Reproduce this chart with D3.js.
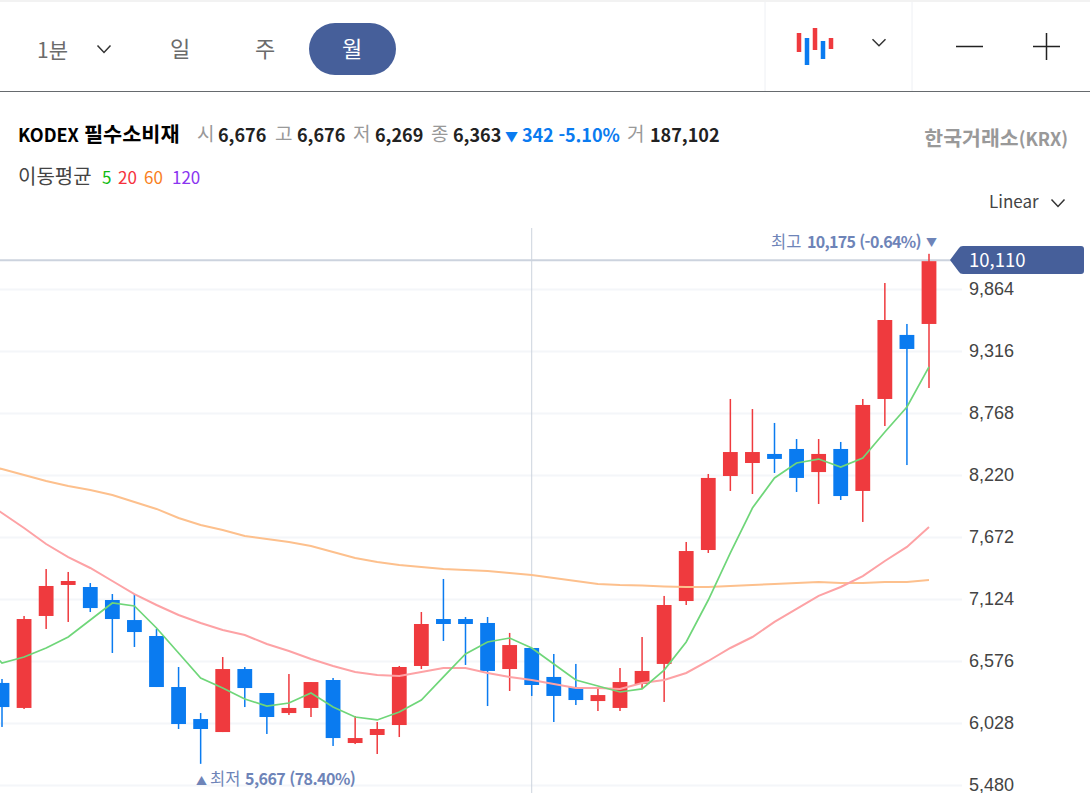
<!DOCTYPE html>
<html lang="ko">
<head>
<meta charset="utf-8">
<script src="https://cdn.jsdelivr.net/npm/d3@7"></script>
<style>
    html, body { margin: 0; padding: 0; background: #fff; overflow: hidden; }
    svg { display: block; font-family: "Noto Sans CJK KR", "Noto Sans", sans-serif; }
    .tick text { font-size: 18px; fill: #444; }
    .tick line { stroke: #f4f6f9; stroke-width: 2px; }
</style>
</head>
<body>
<div id="chart"></div>
<script>
// monthly candles, oldest first
const opens = [6382, 6161, 6974, 7248, 7230, 7115, 6938, 6797, 6346, 6063, 5948, 6505, 6293, 6116, 6161, 6408, 5851, 5922, 6010, 6532, 6947, 6947, 6912, 6505, 6691, 6435, 6346, 6222, 6161, 6373, 6550, 7106, 7557, 8211, 8326, 8406, 8450, 8246, 8450, 8079, 8892, 9458, 9555];
const highs = [6417, 6974, 7389, 7363, 7265, 7168, 7168, 6859, 6523, 6116, 6611, 6523, 6293, 6461, 6390, 6426, 6090, 6037, 6532, 7009, 7301, 6965, 6965, 6824, 6691, 6638, 6550, 6346, 6514, 6788, 7151, 7628, 8229, 8892, 8803, 8680, 8538, 8538, 8512, 8892, 9917, 9555, 10175];
const lows = [5993, 6152, 6859, 6921, 7009, 6647, 6700, 6346, 5975, 5667, 5948, 6169, 5931, 6099, 6081, 5825, 5842, 5754, 5904, 6505, 6753, 6541, 6178, 6311, 6267, 6037, 6187, 6134, 6134, 6329, 6214, 7071, 7531, 8079, 8052, 8238, 8070, 7964, 7999, 7805, 8653, 8308, 8989];
const closes = [6169, 6947, 7239, 7283, 7044, 6947, 6832, 6346, 6019, 5975, 6505, 6337, 6081, 6161, 6390, 5895, 5895, 5975, 6523, 6903, 6903, 6903, 6488, 6717, 6364, 6267, 6231, 6275, 6390, 6488, 7071, 7548, 8194, 8423, 8423, 8362, 8194, 8406, 8034, 8839, 9590, 9334, 10110];

// moving averages, first value belongs to the month just off the left edge
const ma5 = [6762, 6558, 6611, 6691, 6788, 6938, 7089, 7062, 6868, 6647, 6426, 6337, 6240, 6178, 6205, 6293, 6169, 6081, 6055, 6125, 6231, 6435, 6638, 6744, 6779, 6691, 6550, 6408, 6355, 6302, 6329, 6496, 6744, 7115, 7531, 7928, 8194, 8326, 8361, 8291, 8370, 8600, 8821, 9175];
const ma20 = [8017, 7884, 7752, 7610, 7495, 7398, 7283, 7168, 7071, 6983, 6912, 6850, 6806, 6726, 6664, 6594, 6532, 6479, 6452, 6443, 6479, 6514, 6514, 6470, 6435, 6408, 6373, 6337, 6337, 6329, 6382, 6408, 6470, 6576, 6691, 6788, 6921, 7036, 7151, 7230, 7327, 7460, 7584, 7760];
const ma60 = [8310, 8273, 8220, 8167, 8123, 8088, 8043, 7981, 7920, 7840, 7778, 7734, 7681, 7654, 7628, 7593, 7539, 7486, 7451, 7425, 7407, 7389, 7380, 7372, 7354, 7336, 7310, 7283, 7257, 7248, 7244, 7235, 7230, 7230, 7239, 7248, 7257, 7265, 7274, 7265, 7265, 7274, 7274, 7292];

const priceTicks = [5480, 6028, 6576, 7124, 7672, 8220, 8768, 9316, 9864];
const lastPrice = 10110;
const crosshairIndex = 24;

const width = 1090;
const height = 793;
const red = "#ef3a3e";
const blue = "#0a7bf0";
const navy = "#465f9a";
const label = "#6e84b8";

const svg = d3.select("#chart")
    .append("svg")
    .attr("width", width)
    .attr("height", height);

const x = d3.scaleLinear().domain([0, opens.length - 1]).range([2, 929]);
const y = d3.scaleLinear().domain([5480, 9864]).range([785, 289]);
const fmt = d3.format(",");

function addText(px, py, text, size, color, weight, anchor) {
    return svg.append("text")
        .attr("x", px)
        .attr("y", py)
        .attr("font-size", size)
        .attr("fill", color)
        .attr("font-weight", weight || 400)
        .attr("text-anchor", anchor || "start")
        .text(text);
}

function chevron(cx, cy, w, h, color) {
    svg.append("path")
        .attr("d", `M${cx - w / 2},${cy - h / 2}L${cx},${cy + h / 2}L${cx + w / 2},${cy - h / 2}`)
        .attr("fill", "none")
        .attr("stroke", color)
        .attr("stroke-width", 1.5);
}

// toolbar
svg.append("line").attr("x1", 0).attr("x2", width).attr("y1", 1).attr("y2", 1).attr("stroke", "#eeeeee").attr("stroke-width", 1.5);
svg.append("line").attr("x1", 0).attr("x2", width).attr("y1", 91.5).attr("y2", 91.5).attr("stroke", "#666a6e");
[765, 912].forEach(d => {
    svg.append("line").attr("x1", d).attr("x2", d).attr("y1", 2).attr("y2", 91).attr("stroke", "#eef0f4");
});
svg.append("rect").attr("x", 309).attr("y", 23).attr("width", 87).attr("height", 52).attr("rx", 26).attr("fill", navy);
addText(37, 58, "1분", 21, "#6b6b6b");
chevron(104, 49, 13, 7, "#333");
addText(170, 57, "일", 22, "#6b6b6b");
addText(255, 57, "주", 22, "#6b6b6b");
addText(342, 57, "월", 22, "#ffffff");

// candle icon
[[799, 33, 52, red], [807, 38, 65, blue], [815, 28, 50, red], [823, 41, 59, blue], [831, 38, 49, red]].forEach(b => {
    svg.append("rect").attr("x", b[0] - 2.25).attr("y", b[1]).attr("width", 4.5).attr("height", b[2] - b[1]).attr("fill", b[3]);
});
chevron(879, 42.5, 13, 6.5, "#333");
svg.append("path").attr("d", "M956,46.5H983M1033,46.5H1060M1046.5,33V60").attr("stroke", "#222").attr("stroke-width", 1.5).attr("fill", "none");

// quote line
const title = addText(18, 142, "KODEX ", 18, "#000", 700);
title.append("tspan").attr("font-size", 20.8).text("필수소비재");
[[197, "시"], [275, "고"], [353, "저"], [431, "종"], [627, "거"]].forEach(d => addText(d[0], 141, d[1], 19, "#999"));
[[218, "6,676"], [297, "6,676"], [375, "6,269"], [453, "6,363"], [650, "187,102"]].forEach(d => addText(d[0], 142, d[1], 18, "#222", 700));
addText(505, 141, "▼", 13, blue);
addText(522, 142, "342 -5.10%", 18, blue, 700).attr("letter-spacing", -0.1);
const krx = addText(1068, 146, "한국거래소", 20.5, "#999", 700, "end");
krx.append("tspan").attr("font-size", 18).text("(KRX)");

addText(18, 184, "이동평균", 20, "#444");
addText(102, 184, "5", 17, "#11bb11");
addText(118, 184, "20", 17, "#f5323c");
addText(144, 184, "60", 17, "#f97f1e");
addText(172, 184, "120", 17, "#8a35f0");

addText(989, 208, "Linear", 17, "#444");
chevron(1058, 203, 13, 7, "#333");

// price axis with its grid
const axis = svg.append("g")
    .attr("transform", "translate(962,0)")
    .call(d3.axisRight(y).tickValues(priceTicks).tickFormat(fmt).tickSizeInner(-962).tickSizeOuter(0).tickPadding(7));
axis.select(".domain").remove();

// crosshair and last price line
svg.append("line")
    .attr("x1", x(crosshairIndex)).attr("x2", x(crosshairIndex))
    .attr("y1", 228).attr("y2", height)
    .attr("stroke", "#ccd3de");
svg.append("line")
    .attr("x1", 0).attr("x2", 952)
    .attr("y1", y(lastPrice) - 1).attr("y2", y(lastPrice) - 1)
    .attr("stroke", "#ccd3de")
    .attr("stroke-width", 2);

// candles
const months = d3.range(opens.length);
const candles = svg.append("g").selectAll("g")
    .data(months)
    .enter()
    .append("g")
    .attr("fill", i => closes[i] >= opens[i] ? red : blue);
candles.append("rect")
    .attr("x", i => x(i) - 0.75)
    .attr("width", 1.5)
    .attr("y", i => y(highs[i]))
    .attr("height", i => y(lows[i]) - y(highs[i]));
candles.append("rect")
    .attr("x", i => x(i) - 7.4)
    .attr("width", 14.8)
    .attr("y", i => y(Math.max(opens[i], closes[i])))
    .attr("height", i => Math.abs(y(opens[i]) - y(closes[i])));

// moving average lines
const maLine = d3.line().x((d, i) => x(i - 1)).y(d => y(d));
[[ma60, "#fdc08d", 2], [ma20, "#fda2a5", 2], [ma5, "#6fd679", 1.7]].forEach(d => {
    svg.append("path")
        .attr("d", maLine(d[0]))
        .attr("fill", "none")
        .attr("stroke", d[1])
        .attr("stroke-width", d[2]);
});

// high and low labels
const maxPrice = d3.max(highs);
const minPrice = d3.min(lows);
addText(937, y(maxPrice) - 7, "▼", 11, label, 400, "end");
addText(921, y(maxPrice) - 6, "10,175 (-0.64%)", 16, label, 700, "end").attr("letter-spacing", -0.65);
addText(771, y(maxPrice) - 6, "최고", 16.5, label);
addText(196, y(minPrice) + 21, "▲", 11, label);
addText(210, y(minPrice) + 21, "최저", 16.5, label);
addText(245, y(minPrice) + 21, "5,667 (78.40%)", 16, label, 700).attr("letter-spacing", -0.55);

// last price tag
svg.append("path")
    .attr("d", "M950,260L959,248Q960,246 963,246H1081Q1084,246 1084,249V271Q1084,274 1081,274H963Q960,274 959,272Z")
    .attr("fill", navy);
addText(969, 267, fmt(lastPrice), 18.5, "#ffffff");
</script>
</body>
</html>
